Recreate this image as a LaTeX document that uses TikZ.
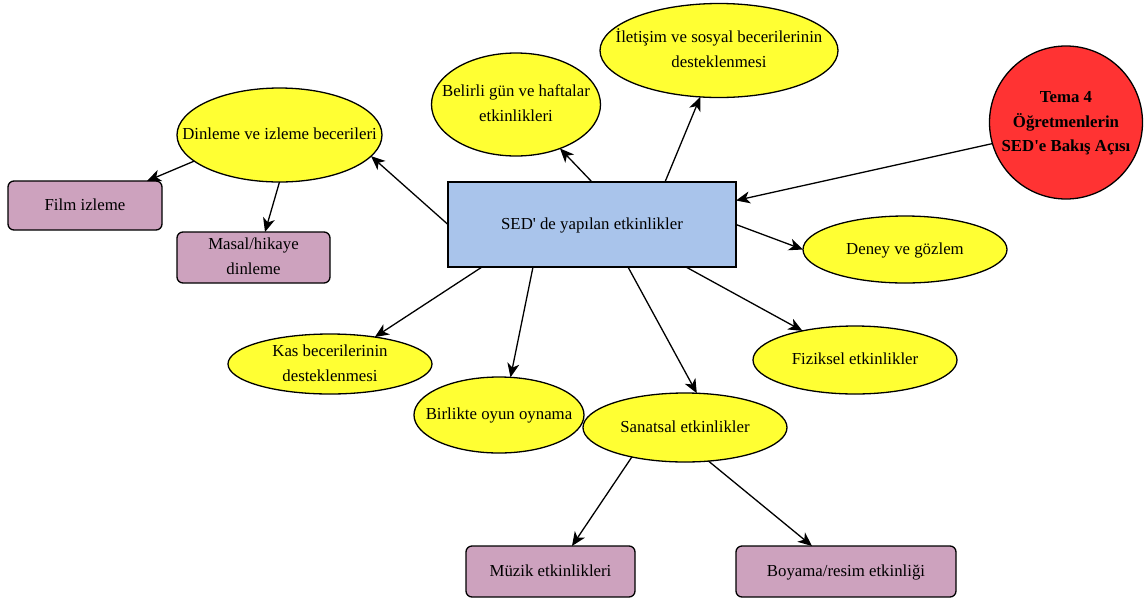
\documentclass[tikz,border=0pt]{standalone}
\usepackage{fontspec}
\setmainfont{Liberation Serif}
\usetikzlibrary{arrows.meta,shapes.geometric}
\definecolor{yel}{HTML}{FFFF33}
\definecolor{redc}{HTML}{FF3333}
\definecolor{bluec}{HTML}{A9C4EB}
\definecolor{purp}{HTML}{CDA2BE}
\newcommand{\tx}[1]{\makebox[0pt]{\raisebox{-4.2pt}[0pt][0pt]{\begin{tabular}[c]{@{}c@{}}#1\end{tabular}}}}
\begin{document}
\begin{tikzpicture}[x=1pt,y=-1pt,
  base/.style={draw=black, line width=1.3pt, inner sep=0pt, outer sep=0pt, font=\fontsize{16.8}{25}\selectfont},
  ell/.style={base, ellipse, fill=yel},
  pbox/.style={base, rectangle, rounded corners=6pt, fill=purp},
  arr/.style={-{Stealth[length=14pt,width=12pt,inset=4pt]}, line width=1.3pt}]
\useasboundingbox (0,0) rectangle (1144,598);
\node[base, rectangle, fill=bluec, minimum width=288pt, minimum height=85pt] (c) at (592,224.5) {\tx{SED\textquotesingle{} de yapılan etkinlikler}};
\node[ell, minimum width=205pt, minimum height=94pt] (din) at (279.5,135) {\tx{Dinleme ve izleme becerileri}};
\node[pbox, minimum width=154pt, minimum height=49pt] (film) at (85,205.5) {\tx{Film izleme}};
\node[pbox, minimum width=153pt, minimum height=51pt] (masal) at (253.5,257.5) {\tx{Masal/hikaye\\dinleme}};
\node[ell, minimum width=169pt, minimum height=103pt] (bel) at (516,104.5) {\tx{Belirli gün ve haftalar\\etkinlikleri}};
\node[ell, minimum width=238pt, minimum height=94pt] (ilet) at (719,50.5) {\tx{İletişim ve sosyal becerilerinin\\desteklenmesi}};
\node[base, circle, fill=redc, minimum size=153pt, font=\fontsize{16.8}{24.5}\selectfont\bfseries] (tema) at (1066,122.5) {\tx{Tema 4\\Öğretmenlerin\\SED\textquotesingle{}e Bakış Açısı}};
\node[ell, minimum width=204pt, minimum height=67pt] (deney) at (905,249.5) {\tx{Deney ve gözlem}};
\node[ell, minimum width=204pt, minimum height=68pt] (fiz) at (855,360) {\tx{Fiziksel etkinlikler}};
\node[ell, minimum width=204pt, minimum height=60pt] (kas) at (330,364) {\tx{Kas becerilerinin\\desteklenmesi}};
\node[ell, minimum width=170pt, minimum height=76pt] (bir) at (499,415) {\tx{Birlikte oyun oynama}};
\node[ell, minimum width=204pt, minimum height=69pt] (san) at (685,427.5) {\tx{Sanatsal etkinlikler}};
\node[pbox, minimum width=169pt, minimum height=51pt] (muz) at (550.5,571.5) {\tx{Müzik etkinlikleri}};
\node[pbox, minimum width=220pt, minimum height=51pt] (boy) at (846,571.5) {\tx{Boyama/resim etkinliği}};
\draw[arr] (c.west) -- (din.-13);
\draw[arr] (din.-163) -- ([xshift=62pt]film.north);
\draw[arr] (din.south) -- ([xshift=11.5pt]masal.north);
\draw[arr] (c.north) -- (bel.-45);
\draw[arr] ([xshift=73pt]c.north) -- (ilet.-112);
\draw[arr] (tema.196) -- ([yshift=24pt]c.east);
\draw[arr] (c.east) -- (deney.west);
\draw[arr] ([xshift=94pt]c.south) -- (fiz.151);
\draw[arr] ([xshift=36pt]c.south) -- (san.71);
\draw[arr] ([xshift=-110pt]c.south) -- (kas.31);
\draw[arr] ([xshift=-59pt]c.south) -- (bir.73);
\draw[arr] (san.209) -- ([xshift=21.5pt]muz.north);
\draw[arr] (san.-55) -- ([xshift=-34pt]boy.north);
\end{tikzpicture}
\end{document}
